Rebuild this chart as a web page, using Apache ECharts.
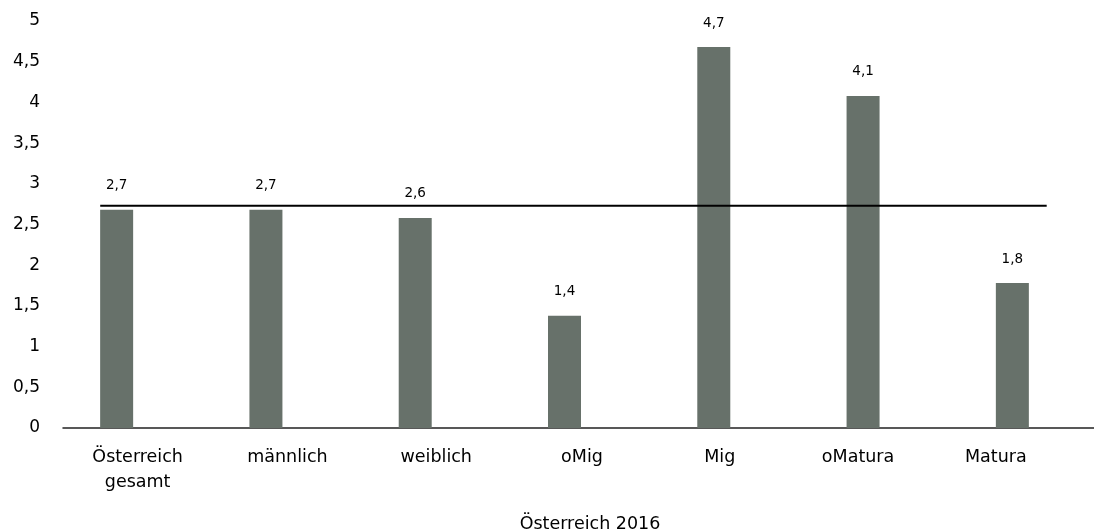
<!DOCTYPE html>
<html>
<head>
<meta charset="utf-8">
<script src="https://cdn.jsdelivr.net/npm/echarts@6/dist/echarts.min.js"></script>
<style>html,body{margin:0;padding:0;background:#fff}#c{width:1094px;height:530px}</style>
</head>
<body>
<div id="c"></div>
<script>
var categories = ['Österreich\ngesamt', 'männlich', 'weiblich', 'oMig', 'Mig', 'oMatura', 'Matura'];
var values = [2.68, 2.68, 2.58, 1.38, 4.68, 4.08, 1.78];
var refLineX = [-0.11, 6.23];
var refLineY = 2.73;
var yTicks = { min: 0, max: 5, interval: 0.5 };
var xTitle = 'Österreich 2016';
// horizontal shift of each category label (style only)
var labelShift = [21, 21.5, 21, 17.5, 6, -5, -16.5];

var FONT = 'DejaVu Sans';
function fmt(v) { return String(v).replace('.', ','); }

var catData = categories.map(function (c, i) {
  var s = labelShift[i];
  return { value: c, textStyle: { padding: s >= 0 ? [0, 0, 0, 2 * s] : [0, -2 * s, 0, 0] } };
});

var chart = echarts.init(document.getElementById('c'));
chart.setOption({
  animation: false,
  textStyle: { fontFamily: FONT },
  title: {
    text: xTitle, left: 585, top: 510, textAlign: 'center',
    textStyle: { fontFamily: FONT, fontSize: 17.5, fontWeight: 'normal', color: '#000' }
  },
  grid: [
    { left: 42, right: 7, top: 21, bottom: 102, containLabel: false },
    { left: 63, right: 0, top: 21, bottom: 102, containLabel: false }
  ],
  xAxis: [{
    type: 'category', data: catData, gridIndex: 0,
    axisLine: { show: false },
    axisTick: { show: false },
    axisLabel: { color: '#000', fontSize: 17.5, fontFamily: FONT, margin: 17, lineHeight: 25 }
  }, {
    type: 'value', min: -0.5, max: 6.5, show: false, gridIndex: 0
  }, {
    type: 'value', min: 0, max: 1, gridIndex: 1,
    axisLine: { show: true, onZero: true, lineStyle: { color: '#222', width: 1.5 } },
    axisTick: { show: false }, axisLabel: { show: false }, splitLine: { show: false }
  }],
  yAxis: [{
    type: 'value', min: yTicks.min, max: yTicks.max, interval: yTicks.interval, gridIndex: 0,
    axisLine: { show: false }, axisTick: { show: false }, splitLine: { show: false },
    axisLabel: { color: '#000', fontSize: 17, fontFamily: FONT, margin: 2, formatter: fmt }
  }, {
    type: 'value', min: yTicks.min, max: yTicks.max, gridIndex: 1, show: false
  }],
  series: [{
    type: 'bar', data: values, barWidth: 33, xAxisIndex: 0, yAxisIndex: 0,
    itemStyle: { color: '#67716a' },
    label: {
      show: true, position: 'top', distance: 17, color: '#000', fontSize: 13.5, fontFamily: FONT,
      formatter: function (p) { return p.value.toFixed(1).replace('.', ','); }
    }
  }, {
    type: 'line', xAxisIndex: 1, yAxisIndex: 0, symbol: 'none', silent: true,
    data: refLineX.map(function (x) { return [x, refLineY]; }),
    lineStyle: { color: '#000', width: 2 }
  }]
});
</script>
</body>
</html>
